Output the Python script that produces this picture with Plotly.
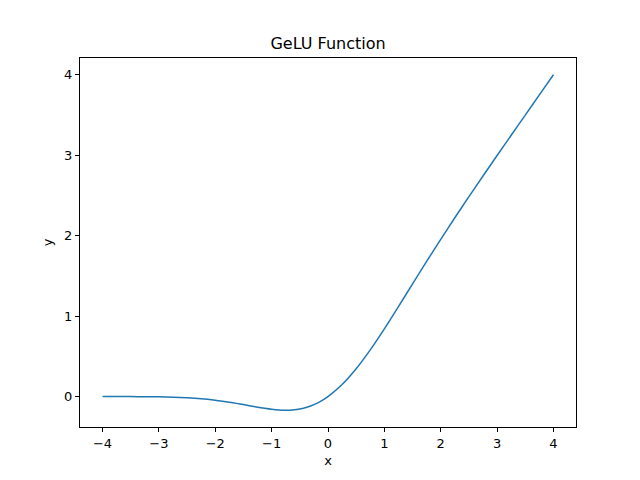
import plotly.graph_objects as go

# Values
x_vals = [-4.0, -3.75, -3.5, -3.25, -3.0, -2.75, -2.5, -2.25, -2.0, -1.875, -1.75, -1.625,
          -1.5, -1.375, -1.25, -1.125, -1.0, -0.875, -0.75, -0.625, -0.5, -0.375, -0.25,
          -0.125, 0.0, 0.25, 0.5, 0.75, 1.0, 1.25, 1.5, 1.75,
          2.0, 2.25, 2.5, 2.75, 3.0, 3.25, 3.5, 3.75, 4.0]
y_vals = [-0.0001, -0.0003, -0.0008, -0.0019, -0.0040, -0.0082, -0.0155, -0.0275, -0.0455,
          -0.0570, -0.0701, -0.0847, -0.1002, -0.1163, -0.1320, -0.1466, -0.1587, -0.1669,
          -0.1700, -0.1662, -0.1543, -0.1327, -0.1003, -0.0563, 0.0, 0.1497,
          0.3457, 0.5800, 0.8413, 1.1180, 1.4000, 1.6800, 1.9545, 2.2225, 2.4845,
          2.7420, 2.9960, 3.2480, 3.4990, 3.7497, 4.0]

x_ticks = [-4, -3, -2, -1, 0, 1, 2, 3, 4]
x_tick_labels = ["\u22124", "\u22123", "\u22122", "\u22121", "0", "1", "2", "3", "4"]
y_ticks = [0, 1, 2, 3, 4]
y_tick_labels = ["0", "1", "2", "3", "4"]

fig = go.Figure()
fig.add_trace(go.Scatter(x=x_vals, y=y_vals, mode="lines",
                         line=dict(color="#1f77b4", width=1.5, shape="spline", smoothing=0.6)))

axis_common = dict(showgrid=False, zeroline=False, showline=True, linecolor="black",
                   linewidth=1, mirror=True, ticks="outside", ticklen=4, tickwidth=1,
                   tickcolor="black", tickfont=dict(size=13, color="black"))

fig.update_layout(
    width=640, height=480,
    paper_bgcolor="white", plot_bgcolor="white",
    margin=dict(l=72, r=72, t=50, b=61),
    font=dict(family="DejaVu Sans", color="black"),
    showlegend=False,
    title=dict(text="GeLU Function", x=0.5, xanchor="center",
               yref="container", y=1 - 41 / 480, yanchor="bottom",
               font=dict(size=16, color="black")),
    xaxis=dict(range=[-4.4, 4.4], tickvals=x_ticks, ticktext=x_tick_labels,
               title=dict(text="x", font=dict(size=13), standoff=6), **axis_common),
    yaxis=dict(range=[-0.3785, 4.2085], tickvals=y_ticks, ticktext=y_tick_labels,
               title=dict(text="y", font=dict(size=13), standoff=8), **axis_common),
)

fig.write_html("out.html")
